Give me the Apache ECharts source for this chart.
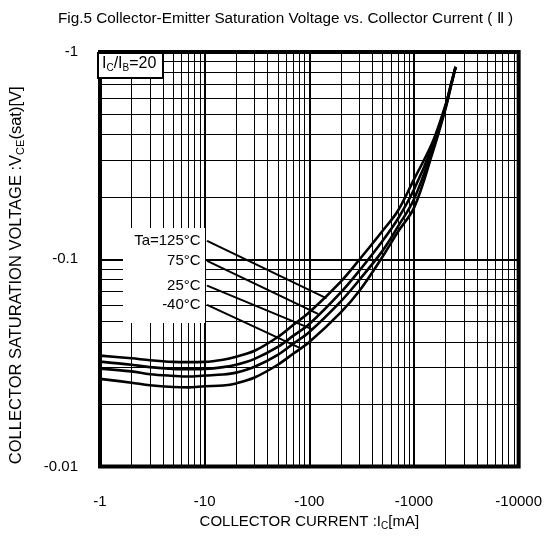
<!DOCTYPE html>
<html>
<head>
<meta charset="utf-8">
<script src="https://cdn.jsdelivr.net/npm/echarts@6/dist/echarts.min.js"></script>
<style>html,body{margin:0;padding:0;background:#fff}#c{width:545px;height:536px}</style>
</head>
<body>
<div id="c"></div>
<script>
// Collector current (mA, magnitude)
const currents = [1, 2, 3, 5, 7, 10, 15, 20, 30, 50, 70, 100, 200, 300, 500, 700, 1000, 1500, 2000, 2250, 2500];
// VCE(sat) magnitude (V) per ambient temperature
const vce125 = [0.0343, 0.0333, 0.0326, 0.0320, 0.0319, 0.0320, 0.0328, 0.0339, 0.0362, 0.0422, 0.0482, 0.0555, 0.0781, 0.0995, 0.137, 0.171, 0.243, 0.366, 0.555, 0.696, 0.848];
const vce75  = [0.0321, 0.0310, 0.0302, 0.0296, 0.0295, 0.0296, 0.0302, 0.0310, 0.0331, 0.0378, 0.0427, 0.0487, 0.0692, 0.0881, 0.1226, 0.1564, 0.217, 0.351, 0.548, 0.690, 0.848];
const vce25  = [0.0297, 0.0288, 0.0279, 0.0274, 0.0272, 0.0275, 0.0278, 0.0284, 0.0303, 0.0346, 0.0391, 0.0446, 0.0627, 0.0795, 0.1098, 0.1434, 0.195, 0.337, 0.540, 0.685, 0.848];
const vceM40 = [0.0265, 0.0254, 0.0247, 0.0242, 0.0241, 0.0244, 0.0246, 0.0252, 0.0269, 0.0310, 0.0350, 0.0399, 0.0555, 0.0703, 0.1028, 0.1354, 0.177, 0.325, 0.532, 0.680, 0.848];
const tempLabels = ['Ta=125°C', '75°C', '25°C', '-40°C'];
// leader lines: [start, end] in data coords (I mA, V)
const leader125 = [[10.56, 0.1226], [145, 0.065]];
const leader75  = [[10.56, 0.0983], [121, 0.0545]];
const leader25  = [[10.56, 0.0747], [104.5, 0.0462]];
const leaderM40 = [[10.56, 0.0603], [84, 0.0371]];
const xTicks = [1, 10, 100, 1000, 10000];
const yTicks = [0.01, 0.1, 1];

const FONT = 'Liberation Sans, Arial, sans-serif';
const curves = [vce125, vce75, vce25, vceM40];
const leaders = [leader125, leader75, leader25, leaderM40];

// minor grid values 2..9 per decade
const xMinor = [], yMinor = [];
for (let i = 0; i < xTicks.length - 1; i++) for (let k = 2; k <= 9; k++) xMinor.push(xTicks[i] * k);
for (let i = 0; i < yTicks.length - 1; i++) for (let k = 2; k <= 9; k++) yMinor.push(+(yTicks[i] * k).toPrecision(3));

const series = [];
series.push({
  type: 'line', z: 0, silent: true, data: [[currents[0], vce125[0]]],
  symbol: 'none', lineStyle: {opacity: 0},
  markLine: {
    silent: true, symbol: ['none', 'none'], animation: false,
    label: {show: false},
    lineStyle: {color: '#000', width: 1, type: 'solid'},
    data: xMinor.map(v => ({xAxis: v})).concat(yMinor.map(v => ({yAxis: v})))
  }
});
curves.forEach((c) => {
  series.push({
    type: 'line', zlevel: 1, z: 5, silent: true, smooth: 0.35, symbol: 'none',
    data: currents.map((x, i) => [x, c[i]]),
    lineStyle: {color: '#000', width: 2.6}
  });
});
leaders.forEach((l, j) => {
  series.push({
    type: 'line', zlevel: 1, z: 6, silent: true, symbol: 'circle', symbolSize: 1, showSymbol: true,
    itemStyle: {color: '#000'},
    data: l.map((p, i) => i === 0 ? {value: p, label: {show: true, position: 'left', distance: 6, formatter: tempLabels[j], color: '#000', fontSize: 15, fontFamily: FONT}} : {value: p}),
    lineStyle: {color: '#000', width: 2}
  });
});

const chart = echarts.init(document.getElementById('c'), null, {renderer: 'canvas'});
chart.setOption({
  animation: false,
  backgroundColor: '#fff',
  title: {
    text: 'Fig.5 Collector-Emitter Saturation Voltage vs. Collector Current ( Ⅱ )',
    left: 53, top: 6,
    textStyle: {fontSize: 15.3, fontWeight: 'normal', color: '#000', fontFamily: FONT}
  },
  grid: {left: 97, right: 26, top: 52, bottom: 59, show: true, borderColor: '#000', borderWidth: 4, backgroundColor: 'transparent'},
  xAxis: {
    type: 'log', logBase: 10, min: 1, max: 10000,
    name: 'COLLECTOR CURRENT :I{s|C}[mA]', nameLocation: 'middle', nameGap: 45,
    nameTextStyle: {fontSize: 15, color: '#000', fontFamily: FONT, rich: {s: {fontSize: 10, padding: [8, 0, 0, 0], fontFamily: FONT}}},
    axisLine: {show: false}, axisTick: {show: false},
    axisLabel: {margin: 28, fontSize: 15, color: '#000', fontFamily: FONT, formatter: v => '-' + v},
    splitLine: {show: true, lineStyle: {color: '#000', width: 2}}
  },
  yAxis: {
    type: 'log', logBase: 10, min: 0.01, max: 1,
    name: 'COLLECTOR SATURATION VOLTAGE :V{s|CE}(sat)[V]', nameLocation: 'middle', nameGap: 74, nameRotate: 90,
    nameTextStyle: {fontSize: 16.5, color: '#000', fontFamily: FONT, padding: [0, 32, 0, 0], rich: {s: {fontSize: 11, padding: [8, 0, 0, 0], fontFamily: FONT}}},
    axisLine: {show: false}, axisTick: {show: false},
    axisLabel: {margin: 22, fontSize: 15, color: '#000', fontFamily: FONT, formatter: v => '-' + v},
    splitLine: {show: true, lineStyle: {color: '#000', width: 2}}
  },
  graphic: {
    elements: [
      {type: 'rect', zlevel: 1, z: 1, silent: true, shape: {x: 123, y: 228, width: 82, height: 95}, style: {fill: '#fff'}},
      {type: 'rect', zlevel: 1, z: 7, silent: true, shape: {x: 98, y: 53, width: 65, height: 25}, style: {fill: '#fff', stroke: '#000', lineWidth: 2}},
      {type: 'text', zlevel: 1, z: 8, silent: true, left: 102, top: 56,
        style: {text: 'I{s|C}/I{s|B}=20', fill: '#000', fontSize: 16, fontFamily: FONT, rich: {s: {fontSize: 10, padding: [8, 0, 0, 0], fontFamily: FONT}}}}
    ]
  },
  series: series
});
</script>
</body>
</html>
